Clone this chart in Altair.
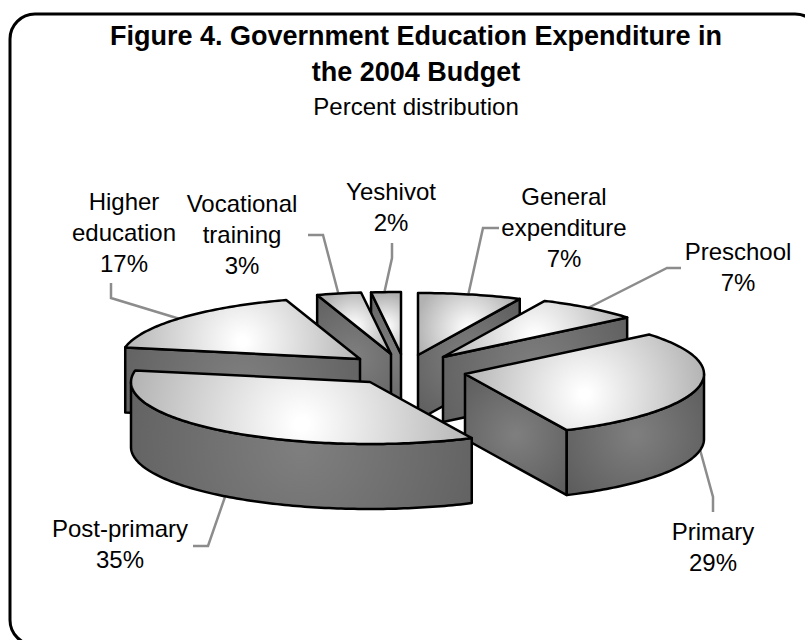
import math
import altair as alt
import pandas as pd

# Budget shares, clockwise from twelve o'clock
categories = ["General expenditure", "Preschool", "Primary", "Post-primary",
              "Higher education", "Vocational training", "Yeshivot"]
shares = [7, 7, 29, 35, 17, 3, 2]
label_lines = [["General", "expenditure"], ["Preschool"], ["Primary"], ["Post-primary"],
               ["Higher", "education"], ["Vocational", "training"], ["Yeshivot"]]

title_lines = ["Figure 4. Government Education Expenditure in", "the 2004 Budget"]
subtitle = "Percent distribution"

# Layout of the exploded, tilted pie
W, H = 805, 640
RX, RY, DEPTH = 239, 62, 65
apex = {"General expenditure": (418, 355), "Preschool": (443, 357), "Primary": (465, 374),
        "Post-primary": (370, 382), "Higher education": (360, 359),
        "Vocational training": (391, 354), "Yeshivot": (401, 354)}
paint_order = ["Yeshivot", "Vocational training", "General expenditure", "Preschool",
               "Higher education", "Primary", "Post-primary"]
label_anchor = {"General expenditure": (564, 205), "Preschool": (738, 260), "Primary": (713, 540),
                "Post-primary": (120, 537), "Higher education": (124, 210),
                "Vocational training": (242, 212), "Yeshivot": (391, 200)}
leaders = [[(111, 283), (111, 298), (180, 319)],
           [(308, 235), (323, 235), (339, 296)],
           [(392, 243), (392, 258), (384, 294)],
           [(499, 228), (483, 228), (468, 296)],
           [(681, 268), (667, 268), (586, 309)],
           [(193, 546), (208, 546), (226, 494)],
           [(699, 446), (713, 497), (713, 512)]]

X = alt.X("x:Q", axis=None, scale=alt.Scale(domain=[0, W], nice=False, zero=False))
Y = alt.Y("y:Q", axis=None, scale=alt.Scale(domain=[H, 0], nice=False, zero=False))

top_fill = alt.Gradient(gradient="radial", x1=0.5, y1=0.55, x2=0.5, y2=0.55, r1=0.02, r2=0.52,
                        stops=[alt.GradientStop(offset=0, color="#ffffff"),
                               alt.GradientStop(offset=1, color="#b2b2b2")])
side_fill = alt.Gradient(gradient="radial", x1=0.5, y1=0.5, x2=0.5, y2=0.5, r1=0.02, r2=0.72,
                         stops=[alt.GradientStop(offset=0, color="#7e7e7e"),
                                alt.GradientStop(offset=1, color="#585858")])


def rim(c, theta, drop=0):
    """Screen position of the rim at angle theta (degrees clockwise from the top)."""
    t = math.radians(theta)
    return c[0] + RX * math.sin(t), c[1] - RY * math.cos(t) + drop


def arc(c, a, b, drop=0):
    n = max(2, int(abs(b - a)) + 1)
    return [rim(c, a + (b - a) * i / (n - 1), drop) for i in range(n)]


def face(points, fill):
    df = pd.DataFrame(points, columns=["x", "y"]).assign(i=lambda d: range(len(d)))
    return (alt.Chart(df)
            .mark_line(interpolate="linear-closed", fill=fill, stroke="black", strokeWidth=2.5,
                       strokeJoin="round")
            .encode(x=X, y=Y, order="i:Q"))


def slice_faces(name, a, b):
    c = apex[name]
    faces = []
    # Radial wall turned toward the viewer
    for theta, is_end in ((a, False), (b, True)):
        facing = (is_end and 0 < theta < 180) or (not is_end and 180 < theta < 360)
        if facing:
            p = rim(c, theta)
            faces.append(face([c, p, (p[0], p[1] + DEPTH), (c[0], c[1] + DEPTH)], side_fill))
    # Outer wall on the near half of the ellipse
    lo, hi = max(a, 90), min(b, 270)
    if lo < hi:
        faces.append(face(arc(c, lo, hi) + arc(c, hi, lo, DEPTH), side_fill))
    # Top surface
    faces.append(face([c] + arc(c, a, b), top_fill))
    return faces


spans = {}
start = 0.0
for name, share in zip(categories, shares):
    spans[name] = (start, start + share * 3.6)
    start += share * 3.6

layers = []

# Rounded frame running past the right and bottom edges
frame = pd.DataFrame({"x": [10], "y": [14], "x2": [820], "y2": [645]})
layers.append(alt.Chart(frame)
              .mark_rect(fill="white", stroke="black", strokeWidth=3, cornerRadius=25)
              .encode(x=X, y=Y, x2="x2:Q", y2="y2:Q"))

# Leader lines
leader_rows = [{"x": x, "y": y, "g": g, "i": i}
               for g, line in enumerate(leaders) for i, (x, y) in enumerate(line)]
layers.append(alt.Chart(pd.DataFrame(leader_rows))
              .mark_line(color="#8c8c8c", strokeWidth=2.5)
              .encode(x=X, y=Y, detail="g:N", order="i:Q"))

for name in paint_order:
    layers.extend(slice_faces(name, *spans[name]))

# Labels, one row per text line
LABEL_SIZE = 24
LINE = 31
rows = []
for name, share, lines in zip(categories, shares, label_lines):
    ax, ay = label_anchor[name]
    for k, line in enumerate(lines + [f"{share}%"]):
        rows.append({"x": ax, "y": ay + k * LINE, "t": line})
layers.append(alt.Chart(pd.DataFrame(rows))
              .mark_text(font="Liberation Sans", fontSize=LABEL_SIZE, align="center",
                         baseline="alphabetic", color="black")
              .encode(x=X, y=Y, text="t:N"))

heading = pd.DataFrame({"x": [416, 416], "y": [45, 81], "t": title_lines})
layers.append(alt.Chart(heading)
              .mark_text(font="Liberation Sans", fontSize=27, fontWeight="bold", align="center",
                         baseline="alphabetic", color="black")
              .encode(x=X, y=Y, text="t:N"))
layers.append(alt.Chart(pd.DataFrame({"x": [416], "y": [115], "t": [subtitle]}))
              .mark_text(font="Liberation Sans", fontSize=24, align="center",
                         baseline="alphabetic", color="black")
              .encode(x=X, y=Y, text="t:N"))

chart = (alt.layer(*layers)
         .properties(width=W, height=H, padding=0, background="white",
                     autosize=alt.AutoSizeParams(type="none"))
         .configure_view(stroke=None))

chart.save("out.html", embed_options={"renderer": "svg", "actions": False})
